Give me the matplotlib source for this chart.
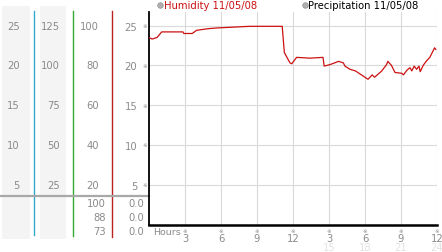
import matplotlib
matplotlib.use("Agg")
import matplotlib.pyplot as plt
from matplotlib.patches import Rectangle

# ---------------- data ----------------
hours = [0.06, 0.25, 0.67, 1.06, 2.83, 2.9, 3.6, 3.97, 4.9, 5.7, 8.4, 11.06,
         11.1, 11.28, 11.75, 11.9, 12.3, 13.4, 14.5, 14.6, 15.1, 15.8, 16.2,
         16.33, 16.75, 17.2, 17.4, 17.8, 18.25, 18.6, 18.8, 19.1, 19.4, 19.8,
         19.9, 20.2, 20.5, 21.06, 21.2, 21.5, 21.75, 21.9, 22.1, 22.3, 22.5,
         22.6, 22.85, 23.1, 23.4, 23.8, 23.9]
humidity = [23.46, 23.3, 23.5, 24.2, 24.2, 24.0, 24.0, 24.4, 24.6, 24.7, 24.9,
            24.9, 24.9, 21.6, 20.3, 20.2, 21.0, 20.9, 21.0, 19.9, 20.1, 20.5,
            20.3, 19.9, 19.5, 19.3, 19.1, 18.7, 18.25, 18.8, 18.5, 18.9, 19.3,
            20.1, 20.5, 20.0, 19.1, 19.0, 18.8, 19.4, 19.7, 19.3, 19.9, 19.5,
            19.9, 19.2, 20.0, 20.5, 21.0, 22.2, 22.0]

y_ticks = [5, 10, 15, 20, 25]
col1_labels = ["5", "10", "15", "20", "25"]
col2_labels = ["25", "50", "75", "100", "125"]
col3_labels = ["20", "40", "60", "80", "100"]
x_ticks = [3, 6, 9, 12, 15, 18, 21, 24]
x_labels = ["3", "6", "9", "12", "3", "6", "9", "12"]
x_labels2 = ["15", "18", "21", "24"]
bottom_col3 = ["100", "88", "73"]
bottom_col4 = ["0.0", "0.0", "0.0"]
legend_items = ["Humidity 11/05/08", "Precipitation 11/05/08"]

# ---------------- styles ----------------
W, H = 442, 253
GRAY_TXT = "#8a8a8a"
RED = "#cc1111"
FS = 7.2

fig = plt.figure(figsize=(W / 100, H / 100), dpi=100)
fig.patch.set_facecolor("white")

# overlay in pixel coordinates
ov = fig.add_axes([0, 0, 1, 1], zorder=0)
ov.set_xlim(0, W)
ov.set_ylim(H, 0)
ov.axis("off")

# main axes
ax_l, ax_r, ax_t, ax_b = 149, 437, 13, 225.5
ax = fig.add_axes([ax_l / W, (H - ax_b) / H, (ax_r - ax_l) / W, (ax_b - ax_t) / H], zorder=2)
ax.set_facecolor("none")
ax.set_xlim(0, 24)
ax.set_ylim(0, 26.7)

for gx in x_ticks:
    ax.axvline(gx, color="#dadada", lw=0.8, zorder=1)
for gy in y_ticks:
    ax.axhline(gy, color="#dadada", lw=0.8, zorder=1)

ax.plot(hours, humidity, color=RED, lw=0.9, zorder=3)

for s in ["top", "right"]:
    ax.spines[s].set_visible(False)
ax.spines["left"].set_linewidth(1.3)
ax.spines["bottom"].set_linewidth(1.8)
ax.spines["left"].set_color("black")
ax.spines["bottom"].set_color("black")

ax.set_yticks(y_ticks)
ax.set_yticklabels([str(v) for v in y_ticks], color=GRAY_TXT, fontsize=FS)
ax.tick_params(axis="y", length=0, pad=8.4)
ax.set_xticks(x_ticks)
ax.set_xticklabels(x_labels, color=GRAY_TXT, fontsize=FS)
ax.tick_params(axis="x", length=0, pad=6)

# tiny marks beside y ticks and above x ticks
for v in y_ticks:
    ax.annotate("※", xy=(0, v), xycoords=("axes fraction", "data"), xytext=(-3, 0),
                textcoords="offset points", ha="center", va="center",
                fontsize=4, color=GRAY_TXT)
for v in x_ticks:
    ax.annotate("※", xy=(v, 0), xycoords=("data", "axes fraction"), xytext=(0, -4),
                textcoords="offset points", ha="center", va="center",
                fontsize=4, color=GRAY_TXT)
for v, lab in zip(x_ticks[4:], x_labels2):
    ax.annotate(lab, xy=(v, 0), xycoords=("data", "axes fraction"), xytext=(0, -16),
                textcoords="offset points", ha="center", va="center",
                fontsize=FS, color="#e2e2e2")
ax.annotate("Hours", xy=(0, 0), xycoords="axes fraction", xytext=(3, -5),
            textcoords="offset points", ha="left", va="center",
            fontsize=6.8, color=GRAY_TXT)

# ---------------- left panel ----------------
ov.add_patch(Rectangle((2, 7), 28, 233, color="#f4f4f4", lw=0))
ov.add_patch(Rectangle((40, 7), 26, 233, color="#f4f4f4", lw=0))
ov.plot([33.5, 33.5], [12, 236], color="#33aacc", lw=1.0)
ov.plot([72.5, 72.5], [12, 237], color="#33aa33", lw=1.0)
ov.plot([111.5, 111.5], [12, 238], color="#bb2222", lw=1.0)
ov.plot([0, ax_l], [196.5, 196.5], color="#a8a8a8", lw=1.6)

# left columns share the main chart's vertical scale (rows at y_ticks)
to_px = ax.transData
for v, a, b, c in zip(y_ticks, col1_labels, col2_labels, col3_labels):
    yp = H - to_px.transform((0, v))[1]
    ov.text(20, yp, a, ha="right", va="center", fontsize=FS, color=GRAY_TXT)
    ov.text(60, yp, b, ha="right", va="center", fontsize=FS, color=GRAY_TXT)
    ov.text(99, yp, c, ha="right", va="center", fontsize=FS, color=GRAY_TXT)

for yp, a, b in zip([204.3, 218.3, 232.3], bottom_col3, bottom_col4):
    ov.text(106, yp, a, ha="right", va="center", fontsize=FS, color=GRAY_TXT)
    ov.text(144, yp, b, ha="right", va="center", fontsize=FS, color=GRAY_TXT)

# ---------------- legend ----------------
ov.plot([160], [6], marker="o", ms=4, mfc="#b0b0b0", mec="#909090", mew=0.5)
ov.text(163.5, 6, legend_items[0], ha="left", va="center", fontsize=FS, color=RED)
ov.plot([305], [6], marker="o", ms=4, mfc="#b0b0b0", mec="#909090", mew=0.5)
ov.text(308.5, 6, legend_items[1], ha="left", va="center", fontsize=FS, color="black")

fig.savefig("out.png", dpi=100)
